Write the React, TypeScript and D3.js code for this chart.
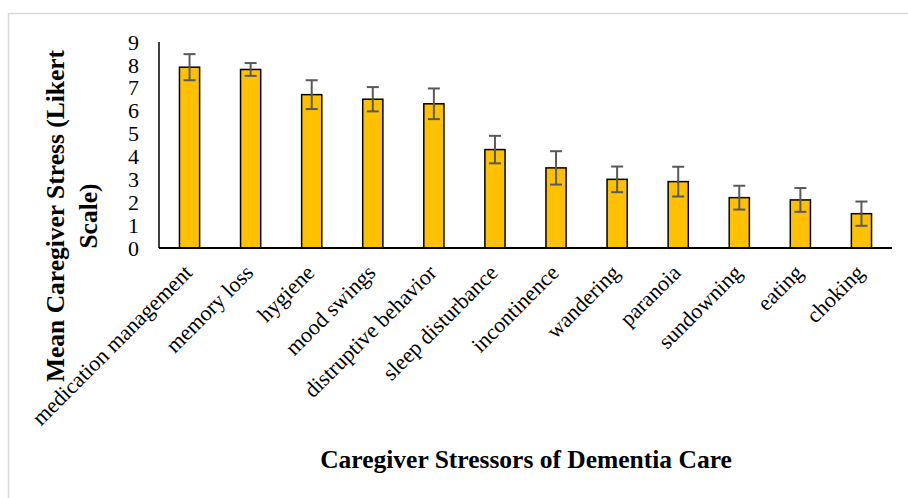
import { useEffect, useRef } from 'react';
import * as d3 from 'd3';

const categories = [
  'medication management', 'memory loss', 'hygiene', 'mood swings',
  'distruptive behavior', 'sleep disturbance', 'incontinence', 'wandering',
  'paranoia', 'sundowning', 'eating', 'choking',
];
const means = [7.9, 7.8, 6.7, 6.5, 6.3, 4.3, 3.5, 3.0, 2.9, 2.2, 2.1, 1.5];
const errors = [0.57, 0.28, 0.63, 0.53, 0.67, 0.6, 0.73, 0.56, 0.65, 0.52, 0.52, 0.53];
const yTicks = [0, 1, 2, 3, 4, 5, 6, 7, 8, 9];

export default function App() {
  const svgRef = useRef<SVGSVGElement>(null);

  useEffect(() => {
    const width = 908;
    const height = 498;
    const left = 159, right = 892, top = 42, bottom = 248;
    const font = '"Liberation Serif", "Times New Roman", serif';

    const svg = d3.select(svgRef.current)
      .attr('width', width)
      .attr('height', height);
    svg.selectAll('*').remove();

    // cadre gris du graphique
    svg.append('path')
      .attr('d', `M8.5,${height} V13.5 H${width}`)
      .attr('fill', 'none')
      .attr('stroke', '#d9d9d9')
      .attr('stroke-width', 1.5);

    const x = d3.scaleBand()
      .domain(categories)
      .range([left, right])
      .paddingInner(0.67)
      .paddingOuter(0.335);

    const y = d3.scaleLinear()
      .domain([0, 9])
      .range([bottom, top]);

    // barres
    svg.append('g')
      .selectAll('rect')
      .data(categories)
      .join('rect')
      .attr('x', d => x(d)!)
      .attr('y', (d, i) => y(means[i]))
      .attr('width', x.bandwidth())
      .attr('height', (d, i) => y(0) - y(means[i]))
      .attr('fill', '#FFC000')
      .attr('stroke', '#000')
      .attr('stroke-width', 1.5);

    // barres d'erreur
    const eb = svg.append('g')
      .attr('stroke', '#595959')
      .attr('stroke-width', 2);
    categories.forEach((c, i) => {
      const cx = x(c)! + x.bandwidth() / 2;
      const hi = y(means[i] + errors[i]);
      const lo = y(means[i] - errors[i]);
      eb.append('line').attr('x1', cx).attr('x2', cx).attr('y1', hi).attr('y2', lo);
      eb.append('line').attr('x1', cx - 6).attr('x2', cx + 6).attr('y1', hi).attr('y2', hi);
      eb.append('line').attr('x1', cx - 6).attr('x2', cx + 6).attr('y1', lo).attr('y2', lo);
    });

    // axes
    svg.append('line')
      .attr('x1', left).attr('x2', left)
      .attr('y1', top).attr('y2', bottom)
      .attr('stroke', '#000').attr('stroke-width', 1.5);
    svg.append('line')
      .attr('x1', left).attr('x2', right)
      .attr('y1', bottom).attr('y2', bottom)
      .attr('stroke', '#000').attr('stroke-width', 2);

    svg.append('g')
      .selectAll('text')
      .data(yTicks)
      .join('text')
      .attr('x', 139)
      .attr('y', d => y(d))
      .attr('dy', '0.35em')
      .attr('text-anchor', 'end')
      .attr('font-family', font)
      .attr('font-size', 22)
      .text(d => d);

    svg.append('g')
      .selectAll('text')
      .data(categories)
      .join('text')
      .attr('text-anchor', 'end')
      .attr('font-family', font)
      .attr('font-size', 22)
      .attr('transform', d => `translate(${x(d)! + x.bandwidth() / 2 + 4},${bottom + 26}) rotate(-45)`)
      .text(d => d);

    // titres
    svg.append('text')
      .attr('x', 526)
      .attr('y', 468)
      .attr('text-anchor', 'middle')
      .attr('font-family', font)
      .attr('font-size', 25.5)
      .attr('font-weight', 'bold')
      .text('Caregiver Stressors of Dementia Care');

    const yt = svg.append('text')
      .attr('transform', 'translate(64,216) rotate(-90)')
      .attr('text-anchor', 'middle')
      .attr('font-family', font)
      .attr('font-size', 25.5)
      .attr('font-weight', 'bold');
    yt.append('tspan').attr('x', 0).attr('y', 0).text('Mean Caregiver Stress (Likert');
    yt.append('tspan').attr('x', 0).attr('y', 33).text('Scale)');
  }, []);

  return (
    <svg ref={svgRef} style={{ position: 'absolute', left: 0, top: 0 }}></svg>
  );
}
